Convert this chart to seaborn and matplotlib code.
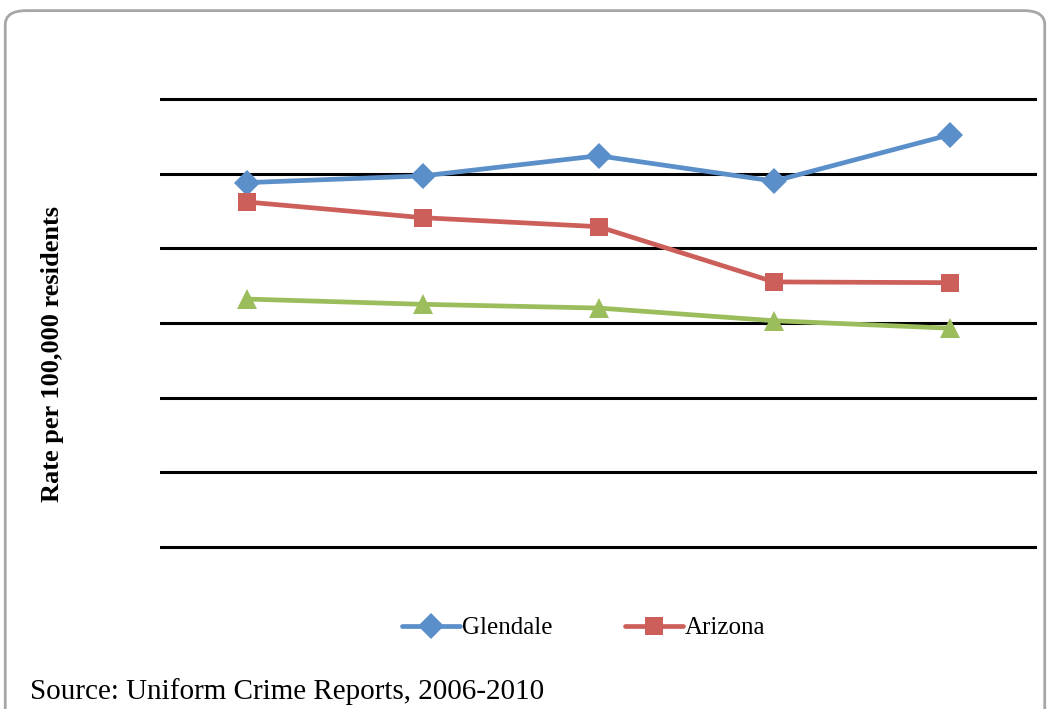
import numpy as np
import pandas as pd
import matplotlib
matplotlib.use("Agg")
import matplotlib.pyplot as plt
import seaborn as sns
from matplotlib.patches import FancyBboxPatch
from matplotlib.lines import Line2D

# data (no tick labels shown, scale is arbitrary)
years = ["2006", "2007", "2008", "2009", "2010"]
glendale = [488, 497, 524, 490, 552]
arizona = [462, 441, 429, 355, 354]
united_states = [332, 325, 320, 303, 293]

series_names = ["Glendale", "Arizona", "United States"]
colors = ["#5A8FCA", "#CC5F5A", "#9CBD5C"]
markers = ["D", "s", "^"]

rows = []
for name, vals in zip(series_names, [glendale, arizona, united_states]):
    for i, v in enumerate(vals):
        rows.append({"idx": i, "year": years[i], "rate": v, "series": name})
df = pd.DataFrame(rows)

sns.set_style("white")
plt.rcParams["font.family"] = ["Liberation Serif", "DejaVu Serif"]
plt.rcParams["text.color"] = "black"

fig = plt.figure(figsize=(10.5, 7.09), dpi=100)
ax = fig.add_axes([0.152, 0.2243, 0.836, 0.6403])

sns.lineplot(data=df, x="idx", y="rate", hue="series", style="series",
             palette=dict(zip(series_names, colors)),
             markers=dict(zip(series_names, markers)), dashes=False,
             linewidth=3.4, markersize=13, markeredgewidth=0,
             legend=False, ax=ax)
# triangles look bigger in the original
for line in ax.get_lines():
    if line.get_marker() == "^":
        line.set_markersize(15)

ax.set_xlim(-0.5, 4.5)
ax.set_ylim(-4, 604)
ax.set_yticks(np.arange(0, 601, 100))
ax.yaxis.grid(True, color="black", linewidth=2.2)
ax.set_axisbelow(True)
ax.set_xticks([])
ax.set_yticklabels([])
ax.tick_params(left=False, bottom=False)
ax.set_xlabel("")
ax.set_ylabel("")
for s in ax.spines.values():
    s.set_visible(False)

fig.text(0.05, 0.5, "Rate per 100,000 residents", rotation=90,
         ha="center", va="center", fontsize=19, fontweight="bold")

handles = [Line2D([], [], color=colors[i], marker=markers[i], linewidth=3.4,
                  markersize=13, markeredgewidth=0) for i in range(2)]
fig.legend(handles, series_names[:2], loc="center", bbox_to_anchor=(0.556, 0.114),
           ncol=2, frameon=False, fontsize=18, handlelength=2.3,
           handletextpad=0.1, columnspacing=2.9)

fig.text(0.029, 0.025, "Source: Uniform Crime Reports, 2006-2010",
         ha="left", va="center", fontsize=21)

frame = FancyBboxPatch((0.005, -0.05), 0.99, 1.035,
                       boxstyle="round,pad=0,rounding_size=0.02",
                       transform=fig.transFigure, facecolor="none",
                       edgecolor="#A6A6A6", linewidth=2)
fig.patches.append(frame)

fig.savefig("out.png", dpi=100)
